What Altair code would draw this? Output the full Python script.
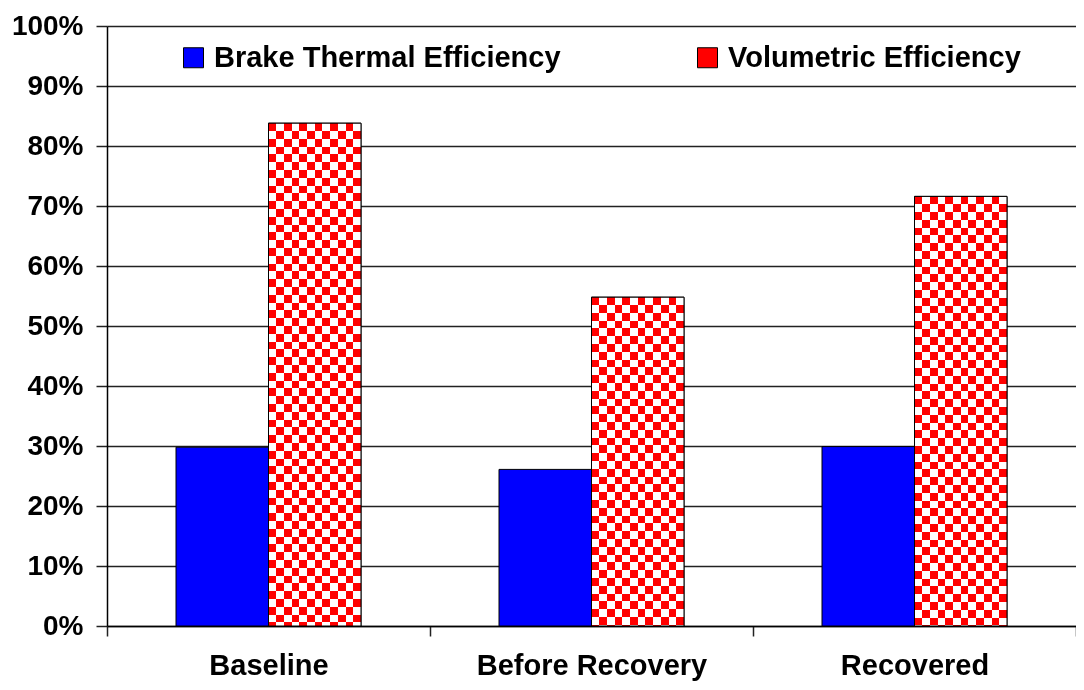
import altair as alt
import pandas as pd

# ---- data ----
categories = ["Baseline", "Before Recovery", "Recovered"]
series_names = ["Brake Thermal Efficiency", "Volumetric Efficiency"]
bte = [0.298, 0.261, 0.299]
ve = [0.838, 0.548, 0.716]
y_ticks = [0.0, 0.1, 0.2, 0.3, 0.4, 0.5, 0.6, 0.7, 0.8, 0.9, 1.0]

rows = []
for c, b, v in zip(categories, bte, ve):
    rows.append({"category": c, "series": series_names[0], "value": b})
    rows.append({"category": c, "series": series_names[1], "value": v})
df = pd.DataFrame(rows)

# ---- layout / style ----
PLOT_W, PLOT_H = 969, 600
FONT = "Liberation Sans"
CELL_PX = 7.8          # checker cell size in pixels
N_COLS = 12            # checker columns across one bar

RED, WHITE = "#ff0000", "#ffffff"
BLACK, CYAN = "#000000", "#00ffff"


def vstripes():
    stops = []
    for i in range(N_COLS):
        col = RED if i % 2 == 0 else WHITE
        stops.append({"offset": i / N_COLS, "color": col})
        stops.append({"offset": (i + 1) / N_COLS, "color": col})
    return {"gradient": "linear", "x1": 0, "y1": 0, "x2": 1, "y2": 0, "stops": stops}


def hstripes(v):
    frac = CELL_PX / (v * PLOT_H)
    stops = []
    k = 0
    while k * frac < 1:
        col = BLACK if k % 2 == 0 else CYAN
        stops.append({"offset": min(k * frac, 1), "color": col})
        stops.append({"offset": min((k + 1) * frac, 1), "color": col})
        k += 1
    return {"gradient": "linear", "x1": 0, "y1": 0, "x2": 0, "y2": 1, "stops": stops}


base = alt.Chart(df).encode(
    x=alt.X(
        "category:N",
        sort=categories,
        scale=alt.Scale(paddingInner=0, paddingOuter=0),
        axis=alt.Axis(
            title=None, tickBand="extent", labelAngle=0, labelFontSize=29,
            labelFontWeight="bold", labelPadding=15, tickSize=10, tickWidth=1.5,
            tickColor="#222", domainColor="#000", domainWidth=1.5,
            labelColor="#000", labelLimit=400, grid=False,
        ),
    ),
    xOffset=alt.XOffset(
        "series:N", sort=series_names,
        scale=alt.Scale(domain=series_names, paddingInner=0, paddingOuter=0.746),
    ),
    y=alt.Y(
        "value:Q",
        scale=alt.Scale(domain=[0, 1]),
        axis=alt.Axis(
            title=None, values=y_ticks, format=".0%", labelFontSize=28,
            labelFontWeight="bold", labelPadding=13, tickSize=11, tickWidth=1.5,
            tickColor="#222", grid=True, gridColor="#222", gridWidth=1.5,
            domainColor="#000", domainWidth=1.5, labelColor="#000",
        ),
    ),
)

bars = base.mark_bar(stroke="#000", strokeWidth=1).encode(
    color=alt.Color(
        "series:N",
        scale=alt.Scale(domain=series_names, range=["#0000ff", "#ff0000"]),
        legend=alt.Legend(
            title=None, orient="none", legendX=72, legendY=17,
            direction="horizontal", symbolType="square", symbolSize=400,
            symbolStrokeColor="#000", symbolStrokeWidth=1, labelFontSize=29,
            labelFontWeight="bold", labelFont=FONT, labelColor="#000",
            labelOffset=6, columnPadding=132, padding=0, labelLimit=600,
        ),
    )
)

is_ve = alt.datum.series == series_names[1]

layer_a = base.transform_filter(is_ve).mark_bar(fill=vstripes(), strokeWidth=0)

fill_b = (
    alt.when(alt.datum.category == categories[0]).then(alt.value(hstripes(ve[0])))
    .when(alt.datum.category == categories[1]).then(alt.value(hstripes(ve[1])))
    .otherwise(alt.value(hstripes(ve[2])))
)
layer_b = base.transform_filter(is_ve).mark_bar(blend="difference", strokeWidth=0).encode(
    fill=fill_b
)

outline = base.transform_filter(is_ve).mark_bar(
    fillOpacity=0, stroke="#000", strokeWidth=1
)

chart = (
    alt.layer(bars, layer_a, layer_b, outline)
    .properties(
        width=PLOT_W, height=PLOT_H,
        autosize=alt.AutoSizeParams(type="none"),
        padding={"left": 99, "top": 18, "right": 0, "bottom": 56},
        background="white",
    )
    .configure(font=FONT)
    .configure_view(stroke="transparent")
)

chart.save("out.html", embed_options={"renderer": "svg", "actions": False})
